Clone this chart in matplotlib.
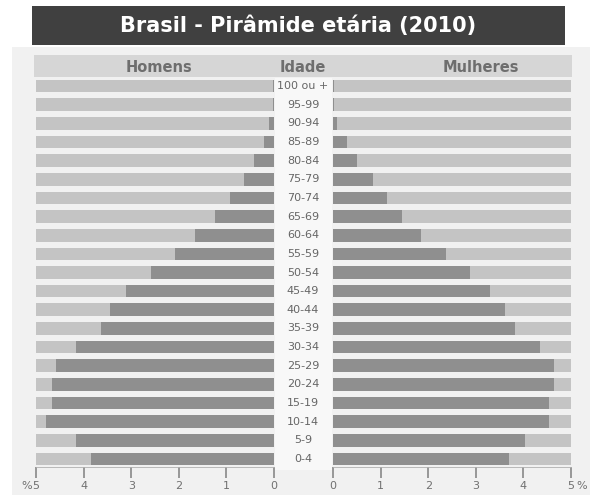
import matplotlib
matplotlib.use("Agg")
import matplotlib.pyplot as plt
from matplotlib.patches import Rectangle

ages = ["0-4", "5-9", "10-14", "15-19", "20-24", "25-29", "30-34", "35-39",
        "40-44", "45-49", "50-54", "55-59", "60-64", "65-69", "70-74",
        "75-79", "80-84", "85-89", "90-94", "95-99", "100 ou +"]
homens = [3.85, 4.15, 4.78, 4.67, 4.67, 4.57, 4.15, 3.64, 3.45, 3.11, 2.59,
          2.08, 1.66, 1.24, 0.92, 0.62, 0.42, 0.22, 0.10, 0.03, 0.02]
mulheres = [3.70, 4.03, 4.54, 4.54, 4.65, 4.65, 4.35, 3.82, 3.61, 3.30, 2.88,
            2.37, 1.85, 1.44, 1.13, 0.83, 0.51, 0.30, 0.09, 0.03, 0.02]
ticks = [0, 1, 2, 3, 4, 5]
title = "Brasil - Pirâmide etária (2010)"

W, H = 595, 495
fig = plt.figure(figsize=(W / 100, H / 100), dpi=100)
fig.patch.set_facecolor("white")

def fx(px):
    return px / W

def fy(py):
    return 1 - py / H

def rect(x0, y0, x1, y1, color, z):
    fig.patches.append(Rectangle((fx(x0), fy(y1)), fx(x1) - fx(x0), fy(y0) - fy(y1),
                                 transform=fig.transFigure, facecolor=color,
                                 edgecolor="none", zorder=z))

rect(12, 47, 590, 495, "#f1f1f1", -5)      # panel background
rect(32, 6, 565, 45, "#404040", -4)        # title box
rect(34, 55, 572, 77, "#d6d6d6", -4)       # header band
rect(275, 78, 332, 470, "#f8f8f8", -4)     # middle column

fig.text(fx(298), fy(26), title, color="white", fontsize=15, fontweight="bold",
         ha="center", va="center")
for label, xpx in [("Homens", 159), ("Idade", 303), ("Mulheres", 481)]:
    fig.text(fx(xpx), fy(67), label, color="#6e6e6e", fontsize=10.5,
             fontweight="bold", ha="center", va="center")

ax_bottom = fy(467)
ax_h = fy(78) - fy(467)
axL = fig.add_axes([fx(36), ax_bottom, fx(274) - fx(36), ax_h])
axR = fig.add_axes([fx(333), ax_bottom, fx(571) - fx(333), ax_h])

y = list(range(len(ages)))
bh = 0.68
for ax, vals in [(axL, homens), (axR, mulheres)]:
    ax.set_facecolor("none")
    ax.barh(y, [5] * len(y), height=bh, color="#c4c4c4", zorder=1)
    ax.barh(y, vals, height=bh, color="#8f8f8f", zorder=2)
    ax.set_xlim(0, 5)
    ax.set_ylim(-0.43, 20.43)
    ax.set_yticks([])
    for s in ["top", "left", "right"]:
        ax.spines[s].set_visible(False)
    ax.spines["bottom"].set_color("#b0b0b0")
    ax.spines["bottom"].set_linewidth(0.6)
    ax.set_xticks(ticks)
    ax.set_xticklabels([str(t) for t in ticks])
    ax.tick_params(axis="x", direction="out", length=8, width=1.2, color="#888888",
                   labelsize=8, labelcolor="#707070", pad=2)
axL.invert_xaxis()

fig.text(fx(27), fy(486), "%", color="#707070", fontsize=8, ha="center", va="center")
fig.text(fx(582), fy(486), "%", color="#707070", fontsize=8, ha="center", va="center")

# age labels in the middle column
for yi, a in zip(y, ages):
    yfrac = ax_bottom + ax_h * (yi + 0.43) / 20.86
    fig.text(fx(303), yfrac, a, fontsize=8, color="#666666",
             ha="center", va="center")

fig.savefig("out.png", dpi=100, facecolor=fig.get_facecolor())
